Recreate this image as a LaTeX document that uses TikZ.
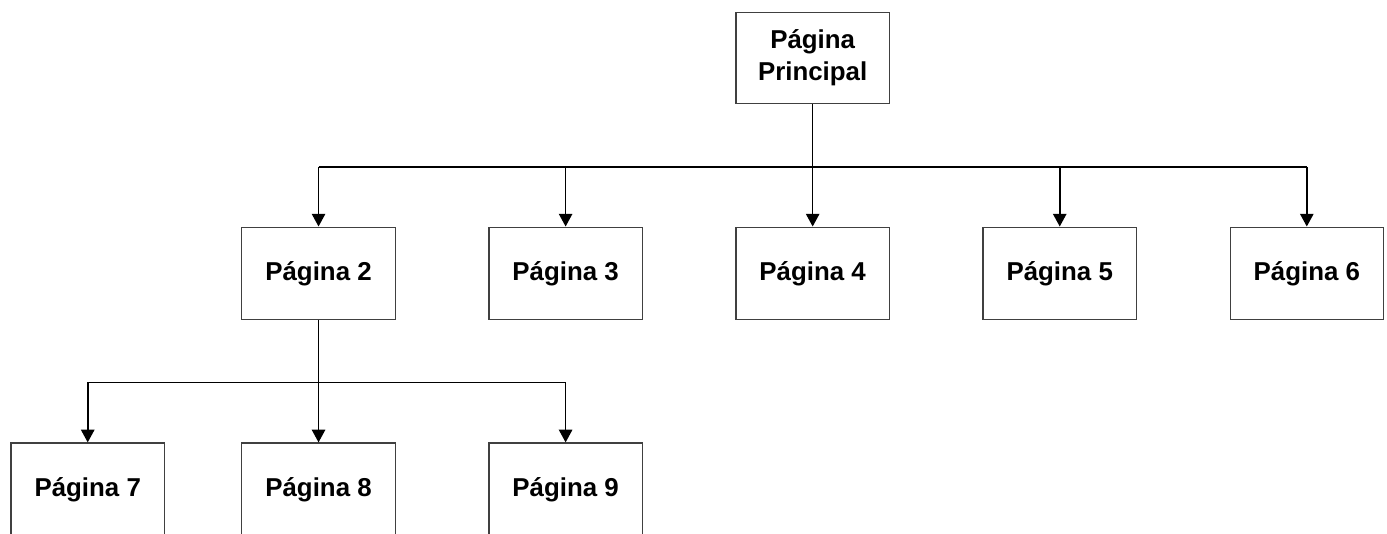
\documentclass[tikz,border=0pt]{standalone}
\usepackage{fontspec}
\setmainfont{Liberation Sans}
\usepackage{tikz}
\usetikzlibrary{positioning,arrows.meta}

\begin{document}
\begin{tikzpicture}[
	pagina/.style={draw=black!75,line width=0.9pt,minimum width=115pt,minimum height=69.5pt,
		align=center,inner sep=0pt,font=\fontsize{19.4pt}{24pt}\selectfont\bfseries},
	liga/.style={line width=1.2pt},
	seta/.style={liga,-{Triangle[width=10pt,length=9.5pt]}}
	]
	%% margens
	\useasboundingbox (0,0) rectangle (1040.25pt,-400.5pt);
	%% linha 2
	\node[pagina] (p2) at (238.9pt,-205.1pt) {Página 2};
	\node[pagina,right =69.4pt of p2] (p3) {Página 3};
	\node[pagina,right =69.4pt of p3] (p4) {Página 4};
	\node[pagina,right =69.4pt of p4] (p5) {Página 5};
	\node[pagina,right =69.4pt of p5] (p6) {Página 6};
	%% topo
	\node[pagina,above =92pt of p4,minimum height=68pt] (p1) {Página\\Principal};
	%% linha 3
	\node[pagina,below =91.5pt of p2] (p8) {Página 8};
	\node[pagina,left =57.2pt of p8] (p7) {Página 7};
	\node[pagina,below =91.5pt of p3] (p9) {Página 9};
	%% barramentos
	\coordinate[below =47.25pt of p1] (bus1);
	\coordinate[below =46.5pt of p2] (bus2);
	% ligacoes
	\draw[liga] (p1.south) -- (p1.south |- bus1);
	\draw[liga] (p2.north |- bus1) -- (p6.north |- bus1);
	\foreach \p in {p2,p3,p4,p5,p6}
		\draw[seta] (\p.north |- bus1) -- (\p.north);
	\draw[liga] (p2.south) -- (p2.south |- bus2);
	\draw[liga] (p7.north |- bus2) -- (p9.north |- bus2);
	\foreach \p in {p7,p8,p9}
		\draw[seta] (\p.north |- bus2) -- (\p.north);
\end{tikzpicture}
\end{document}
